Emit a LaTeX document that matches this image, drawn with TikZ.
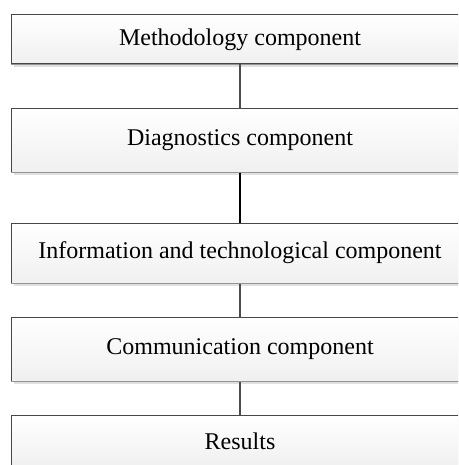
\documentclass[tikz,border=0pt]{standalone}
\usepackage{fontspec}
\setmainfont{Liberation Serif}
\usetikzlibrary{shadows}
\begin{document}
\begin{tikzpicture}[x=1pt,y=-1pt,
  box/.style={rectangle, draw=black!72, line width=1pt, top color=white, bottom color=black!6,
    minimum width=457pt, inner sep=0pt, anchor=center,
    font=\fontsize{24}{28}\selectfont,
    drop shadow={shadow xshift=2.5pt, shadow yshift=-3pt, fill=black!12, opacity=1}},
  lowedge/.style={draw=black!42, line width=1.6pt},
  conn/.style={draw=black!70, line width=1.4pt},
  connthick/.style={draw=black, line width=2.6pt}]
\useasboundingbox (0,0) rectangle (458,465);
\clip (0,0) rectangle (458,465);
\node[box, minimum height=49pt] (m) at (240,39.5) {Methodology component};
\node[box, minimum height=63pt] (d) at (240,140.5) {Diagnostics component};
\node[box, minimum height=60pt] (i) at (240,253) {Information and technological component};
\node[box, minimum height=64pt] (c) at (240,349) {Communication component};
\node[box, minimum height=52pt] (r) at (240,441) {Results};
\foreach \n in {m,d,i,c}{\draw[lowedge] (\n.south west) -- (\n.south east);}
\draw[conn] (m) -- (d);
\draw[connthick] (d) -- (i);
\draw[conn] (i) -- (c);
\draw[conn] (c) -- (r);
\end{tikzpicture}
\end{document}
